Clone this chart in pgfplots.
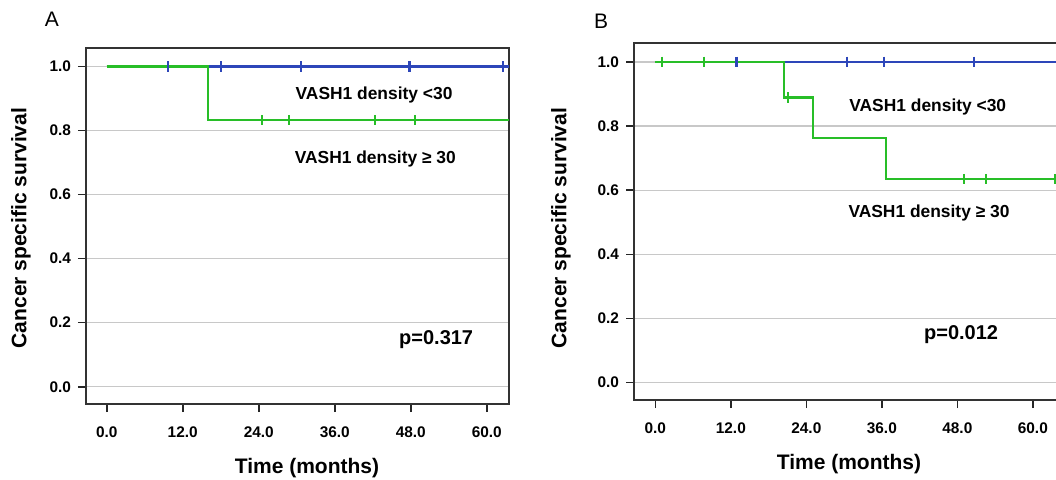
\documentclass[border=0pt]{standalone}
\usepackage{pgfplots}
\pgfplotsset{compat=1.18}
\usepackage{fontspec}
\setmainfont{Liberation Sans}

\definecolor{kmblue}{RGB}{45,70,185}
\definecolor{kmgreen}{RGB}{40,190,40}
\definecolor{gridgray}{RGB}{200,200,200}

\pgfplotsset{
  kmaxis/.style={
    scale only axis,
    anchor=south west,
    ymin=-0.054, ymax=1.058,
    ytick={0,0.2,0.4,0.6,0.8,1.0},
    xtick={0,12,24,36,48,60},
    /pgf/number format/assume math mode=true,
    /pgf/number format/fixed,
    /pgf/number format/fixed zerofill,
    /pgf/number format/precision=1,
    tick label style={font=\bfseries\fontsize{7.7}{9}\selectfont},
    xticklabel style={yshift=-4pt},
    tick align=outside,
    major tick length=4pt,
    tick style={black!85, line width=0.8pt},
    axis line style={black!80, line width=0.9pt},
    ymajorgrids,
    grid style={gridgray, line width=0.7pt},
    xtick pos=bottom, ytick pos=left,
  },
  kmline/.style={const plot, line width=1.1pt, mark=none},
  kmcens/.style={only marks, mark=|, mark size=2.6pt, mark options={line width=1.1pt}},
}

\begin{document}
\begin{tikzpicture}
% ---------- panel A ----------
\begin{axis}[kmaxis, at={(43pt,37.5pt)}, width=211.5pt, height=178pt,
  xmin=-3.27, xmax=63.5]
\addplot[kmline, kmblue] coordinates {(0,1) (63.5,1)};
\addplot[kmcens, kmblue] coordinates {(9.7,1) (18.0,1) (30.7,1) (47.8,1) (62.5,1)};
\addplot[kmline, kmgreen] coordinates {(0,1) (16.0,0.833) (63.5,0.833)};
\addplot[kmcens, kmgreen] coordinates {(24.5,0.833) (28.8,0.833) (42.3,0.833) (48.7,0.833)};
\node[font=\bfseries\fontsize{8.7}{10}\selectfont] at (axis cs:42.2,0.911) {VASH1 density <30};
\node[font=\bfseries\fontsize{8.7}{10}\selectfont] at (axis cs:42.4,0.711) {VASH1 density ≥ 30};
\node[font=\bfseries\fontsize{10}{12}\selectfont] at (axis cs:52.0,0.146) {p=0.317};
\end{axis}
% ---------- panel B ----------
\begin{axis}[kmaxis, at={(317pt,39.5pt)}, width=212pt, height=178.35pt,
  xmin=-3.39, xmax=64.0]
\addplot[kmline, kmblue] coordinates {(0,1) (64,1)};
\addplot[kmcens, kmblue] coordinates {(12.9,1) (30.4,1) (36.3,1) (50.6,1)};
\addplot[kmline, kmgreen] coordinates {(0,1) (20.5,0.889) (25.0,0.762) (36.6,0.635) (64,0.635)};
\addplot[kmcens, kmgreen] coordinates {(1.1,1) (7.7,1) (21.1,0.889) (49.0,0.635) (52.5,0.635) (63.5,0.635)};
\node[font=\bfseries\fontsize{8.7}{10}\selectfont] at (axis cs:43.3,0.860) {VASH1 density <30};
\node[font=\bfseries\fontsize{8.7}{10}\selectfont] at (axis cs:43.5,0.528) {VASH1 density ≥ 30};
\node[font=\bfseries\fontsize{10}{12}\selectfont] at (axis cs:48.6,0.149) {p=0.012};
\end{axis}
% ---------- labels ----------
\node[font=\fontsize{10.5}{12}\selectfont] at (26pt,229.75pt) {A};
\node[font=\fontsize{10.5}{12}\selectfont] at (300.5pt,229pt) {B};
\node[font=\bfseries\fontsize{10.5}{12}\selectfont, rotate=90] at (10.5pt,125.5pt) {Cancer specific survival};
\node[font=\bfseries\fontsize{10.5}{12}\selectfont, rotate=90] at (280.5pt,125.5pt) {Cancer specific survival};
\node[font=\bfseries\fontsize{10.5}{12}\selectfont] at (153.5pt,5.5pt) {Time (months)};
\node[font=\bfseries\fontsize{10.5}{12}\selectfont] at (424.5pt,7.5pt) {Time (months)};
\pgfresetboundingbox
\path[use as bounding box] (0,0) rectangle (528pt,239.5pt);
\end{tikzpicture}
\end{document}
